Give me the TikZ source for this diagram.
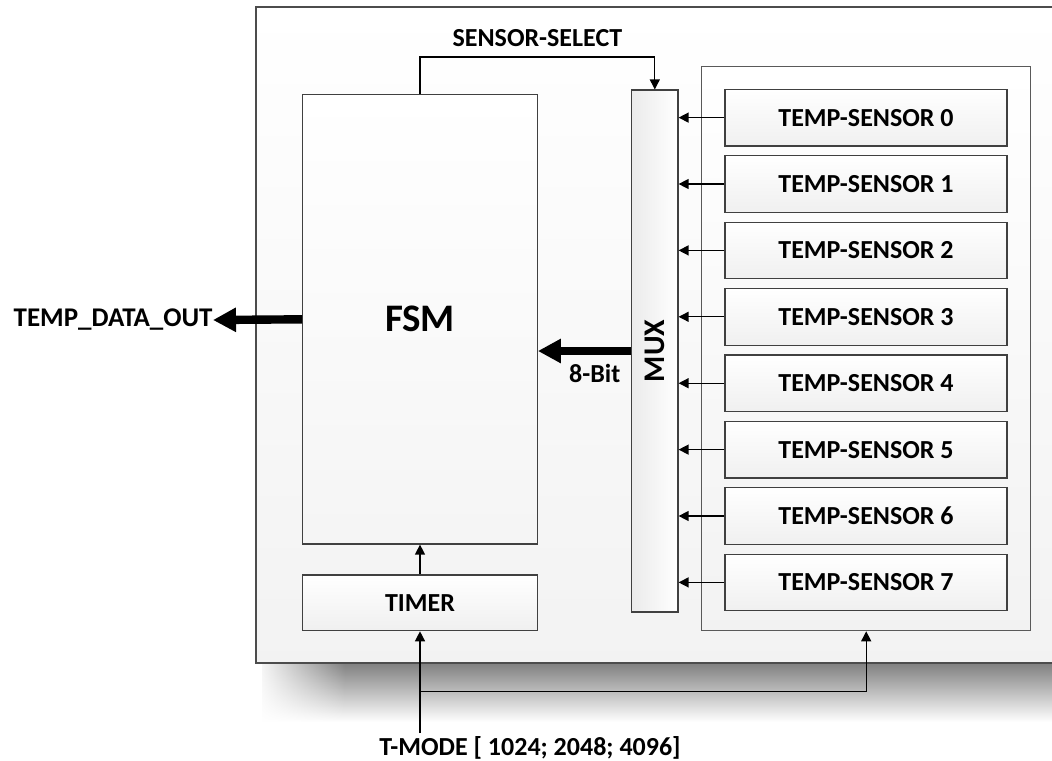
\documentclass[tikz,border=0pt]{standalone}
\usepackage{fontspec}
\setmainfont{Carlito}
\usetikzlibrary{arrows.meta}
\usetikzlibrary{fadings}

\begin{document}
\begin{tikzpicture}[x=0.5pt, y=-0.5pt,
    font=\fontsize{13}{15}\selectfont\bfseries,
    block/.style={draw=black!75, line width=0.6pt, top color=white, bottom color=black!6, inner sep=0pt},
    sensorbox/.style={block, minimum width=141pt, minimum height=28.3pt},
    sig/.style={-{Triangle[length=5pt, width=5pt]}, line width=0.65pt, black},
    bus/.style={-{Triangle[length=11.5pt, width=11.5pt]}, line width=4.2pt, black}]
    % Fix picture size (1052 x 760 px)
    \useasboundingbox (0,0) rectangle (1052,760);
    \fill[white] (0,0) rectangle (1052,760);

    % Shadow under the chip outline (fades out to the left)
    \shade[top color=black!50, bottom color=white] (262,663) rectangle (1052,722);
    \fill[white, path fading=east] (255,663) rectangle (345,722);
    % Chip outline
    \draw[black!70, line width=0.8pt, top color=white, bottom color=black!5] (255.7,6.7) rectangle (1070,663);

    % Sensor group
    \node[block, draw=black!65, top color=white, bottom color=black!5, minimum width=164.5pt, minimum height=282pt] (group) at (866.2,348.7) {};
    \foreach \i in {0,...,7}
        \node[sensorbox] (s\i) at (866,117.6+66.4*\i) {TEMP-SENSOR \i};

    % Main blocks
    \node[block, top color=white, bottom color=black!4, minimum width=117.3pt, minimum height=224.7pt] (fsm) at (420,319.3) {\fontsize{19.5}{22}\selectfont FSM};
    \node[block, minimum width=117.3pt, minimum height=27.9pt] (timer) at (420,602.8) {TIMER};
    \node[block, left color=black!8, right color=white, shading angle=90, minimum width=23.2pt, minimum height=261pt] (mux) at (654.8,351) {};
    \node[rotate=90, font=\fontsize{15}{17}\selectfont\bfseries] (muxlabel) at (mux.center) {MUX};

    % Sensor inputs into MUX
    \foreach \i in {0,...,7}
        \draw[sig] (s\i.west) -- (s\i.west -| mux.east);

    % Select line
    \coordinate (sel) at (654.8,57);
    \draw[sig] (fsm.north) |- (sel) node[pos=0.75, above=1.5pt] {SENSOR-SELECT} -- (mux.north);

    % Data paths
    \node[anchor=east, inner sep=0pt, font=\fontsize{13.5}{15}\selectfont\bfseries] (out) at (213,320) {TEMP\_DATA\_OUT};
    \draw[bus] (fsm.west) -- (out.east);
    \draw[bus] (mux.west) -- (mux.west -| fsm.east) node[pos=0.39, below=1pt] {8-Bit};
    \draw[sig] (timer.north) -- (fsm.south);

    % T-MODE input
    \node (tmode) at (530,748) {T-MODE [ 1024; 2048; 4096]};
    \coordinate (tm) at (420,733);
    \coordinate (br) at (420,691.7);
    \draw[sig] (tm) -- (timer.south);
    \draw[sig] (br) -| (group.south);
\end{tikzpicture}
\end{document}
